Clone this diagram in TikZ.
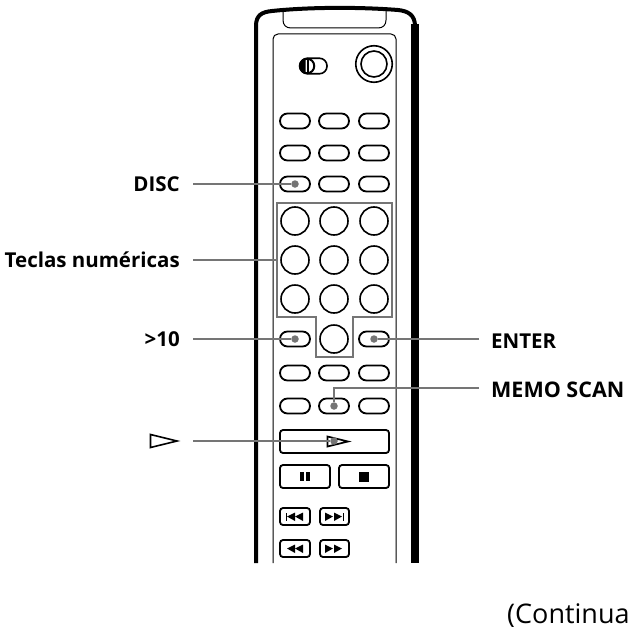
\documentclass[tikz,border=0pt]{standalone}
\usepackage{fontspec}
\setmainfont{Open Sans}
\definecolor{leadgray}{gray}{0.46}
\tikzset{
  capsule/.style={draw=black, line width=1.8pt, rounded corners=7.5pt, minimum width=30pt, minimum height=15pt, inner sep=0pt},
  numkey/.style={draw=black, line width=1.6pt, circle, minimum size=28pt, inner sep=0pt},
  rectkey/.style={draw=black, line width=1.8pt, rounded corners=3pt},
  lead/.style={draw=leadgray, line width=2.2pt},
  leaddot/.style={circle, fill=leadgray, minimum size=7.5pt, inner sep=0pt},
  lab/.style={font=\fontsize{20.5}{20.5}\selectfont\bfseries, inner sep=0pt, text=black}
}
\begin{document}
\begin{tikzpicture}[x=1pt,y=-1pt]
  \useasboundingbox (0,0) rectangle (628,626);
  \clip (0,0) rectangle (628,626);
  % Body of the remote
  \draw [line width=4pt] (256,563) -- (256,26) .. controls (256,15) and (262,12) .. (272,11) .. controls (310,7) and (360,7) .. (398,10) .. controls (408,11) and (415,15) .. (415,26);
  \draw [line width=7.5pt] (415,24) -- (415,563);
  \draw [line width=1pt] (283,11) -- (283,20) .. controls (283,25) and (286,28) .. (291,28) -- (378,28) .. controls (383,28) and (386,25) .. (386,20) -- (386,11);
  \draw [line width=1pt, rounded corners=5pt] (273,563) -- (273,34) -- (396,34) -- (396,563);
  % Switch and knob
  \node (switch) [draw=black, line width=1.6pt, rounded corners=7.5pt, minimum width=27pt, minimum height=15.5pt, inner sep=0pt] at (313.5,66) {};
  \node (slider) [draw=black, fill=white, line width=2pt, circle, minimum size=14.5pt, inner sep=0pt] at (307,66) {};
  \fill (305.5,59) -- (303,60) -- (300.5,63) -- (300.5,69) -- (303,72) -- (305.5,73) -- cycle;
  \fill (307,59) rectangle (309,73);
  \node (knob) [draw=black, line width=1.6pt, circle, minimum size=36.5pt, inner sep=0pt] at (374,64) {};
  \node (knobin) [draw=black, line width=1.6pt, circle, minimum size=26pt, inner sep=0pt] at (374,64) {};
  % Capsule keys
  \foreach \name/\y in {a/121,b/153,c/184,d/373,e/406} {
    \node (\name1) [capsule] at (295,\y) {};
    \node (\name2) [capsule] at (334,\y) {};
    \node (\name3) [capsule] at (374,\y) {};
  }
  \node (over) [capsule] at (295,339) {};
  \node (enter) [capsule] at (374,339) {};
  % Number keys
  \foreach \name/\y in {p/221,q/260,r/299} {
    \node (\name1) [numkey] at (295,\y) {};
    \node (\name2) [numkey] at (334,\y) {};
    \node (\name3) [numkey] at (374,\y) {};
  }
  \node (zero) [numkey] at (334,339) {};
  % Transport keys
  \draw [rectkey] (280,430) rectangle (389,453);
  \draw [rectkey] (280,465) rectangle (330,488);
  \draw [rectkey] (339,465) rectangle (389,488);
  \fill (300,472) rectangle (304,481);
  \fill (306,472) rectangle (310,481);
  \fill (359,472) rectangle (369,482);
  \draw [rectkey] (280,508) rectangle (310,525);
  \draw [rectkey] (320,508) rectangle (349,525);
  \draw [rectkey] (280,540) rectangle (310,557);
  \draw [rectkey] (320,540) rectangle (349,557);
  \fill (286,512.5) rectangle (287,521);
  \fill (295,512.5) -- (287,516.5) -- (295,521) -- cycle;
  \fill (303,512.5) -- (295,516.5) -- (303,521) -- cycle;
  \fill (325,512.5) -- (333,516.5) -- (325,521) -- cycle;
  \fill (334,512.5) -- (342,516.5) -- (334,521) -- cycle;
  \fill (343,512.5) rectangle (344,521);
  \fill (295,544.5) -- (287,548.5) -- (295,553) -- cycle;
  \fill (303,544.5) -- (295,548.5) -- (303,553) -- cycle;
  \fill (325,544.5) -- (333,548.5) -- (325,553) -- cycle;
  \fill (334,544.5) -- (342,548.5) -- (334,553) -- cycle;
  \draw [line width=1.7pt] (327.5,436.5) -- (348,441.5) -- (327.5,446.5) -- cycle;
  % Number key frame
  \draw [leadgray, line width=2.4pt] (277,203) -- (392,203) -- (392,317) -- (353,317) -- (353,357) -- (316,357) -- (316,317) -- (277,317) -- cycle;
  \coordinate (frame) at (277,260);
  % Labels
  \node (disc) [lab, anchor=east] at (180,184) {DISC};
  \node (teclas) [lab, anchor=east] at (180,260) {Teclas numéricas};
  \node (more) [lab, anchor=east] at (180,339) {>10};
  \node (enterlab) [lab, anchor=west] at (491,341) {ENTER};
  \node (memolab) [lab, anchor=west, font=\fontsize{21.5}{21.5}\selectfont\bfseries] at (491,390) {MEMO SCAN};
  \node (cont) [font=\fontsize{27}{27}\selectfont, inner sep=0pt, anchor=base west] at (507,623) {(Continua};
  \draw [line width=1.6pt] (150.5,434.5) -- (177,441) -- (150.5,447.5) -- cycle;
  % Leaders
  \node (d1) [leaddot] at (c1) {};
  \node (d2) [leaddot] at (over) {};
  \node (d3) [leaddot] at (enter) {};
  \node (d4) [leaddot] at (e2) {};
  \node (d5) [leaddot] at (334,441) {};
  \coordinate (l1) at (193,184);
  \coordinate (l2) at (193,260);
  \coordinate (l3) at (193,339);
  \coordinate (l4) at (479,339);
  \coordinate (l5) at (479,388);
  \coordinate (l6) at (193,441);
  \draw [lead] (l1) -- (d1);
  \draw [lead] (l2) -- (frame);
  \draw [lead] (l3) -- (d2);
  \draw [lead] (l4) -- (d3);
  \draw [lead] (l5) -- (334,388) -- (d4);
  \draw [lead] (l6) -- (d5);
\end{tikzpicture}
\end{document}
